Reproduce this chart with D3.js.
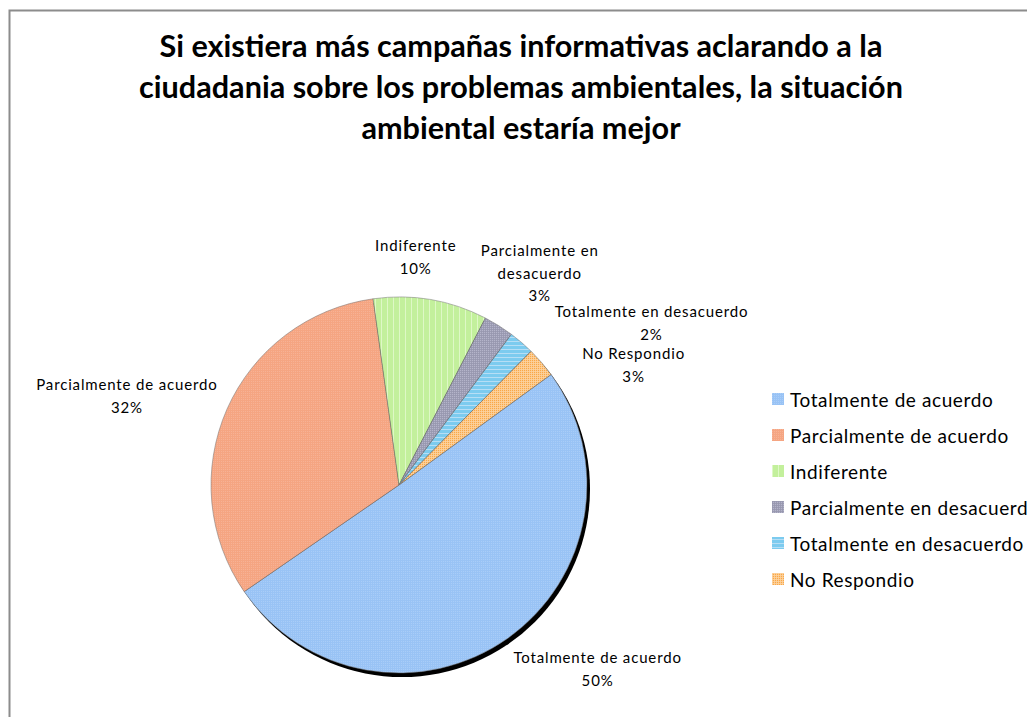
<!DOCTYPE html>
<html>
<head>
<meta charset="utf-8">
<script src="https://cdn.jsdelivr.net/npm/d3@7"></script>
<style>
  html, body { margin: 0; padding: 0; background: #fff; }
  svg { display: block; }
</style>
</head>
<body>
<div id="chart"></div>
<script>
// data
const categories = [
  'Totalmente de acuerdo',
  'Parcialmente de acuerdo',
  'Indiferente',
  'Parcialmente en desacuerdo',
  'Totalmente en desacuerdo',
  'No Respondio'
]
const values = [50.4, 32.4, 9.8, 2.6, 2.2, 2.6]
const labelLines = [
  ['Totalmente de acuerdo'],
  ['Parcialmente de acuerdo'],
  ['Indiferente'],
  ['Parcialmente en', 'desacuerdo'],
  ['Totalmente en desacuerdo'],
  ['No Respondio']
]
const titleLines = [
  'Si existiera más campañas informativas aclarando a la',
  'ciudadania sobre los problemas ambientales, la situación',
  'ambiental estaría mejor'
]

const WIDTH = 1027
const HEIGHT = 717
const CX = 399
const CY = 485
const RADIUS = 188
const START_DEG = 54

// base colours + pattern overlay colours per slice
const baseColors = ['#99c3f5', '#f5a582', '#c3f09c', '#b4b4ca', '#7ccbef', '#f9a848']
const patternColors = ['#a9cdf8', '#f7b295', '#def8c6', '#9696ae', '#b6def5', '#fcd3a2']
const patternKinds = ['dots', 'dots', 'vstripes', 'grid', 'hstripes', 'grid']

// Excel placed the data labels by hand, offsets from the rim point at mid angle
const labelNudge = [
  [90, 30], [-100, -14], [-15, -43], [41, -53], [130, -20], [92, 2]
]

const svg = d3.select('#chart').append('svg')
  .attr('width', WIDTH)
  .attr('height', HEIGHT)

const defs = svg.append('defs')
patternKinds.forEach((kind, i) => {
  const size = kind === 'vstripes' ? 6 : kind === 'hstripes' ? 4 : 2
  const p = defs.append('pattern')
    .attr('id', 'pat' + i)
    .attr('patternUnits', 'userSpaceOnUse')
    .attr('width', size)
    .attr('height', size)
  p.append('rect').attr('width', size).attr('height', size).attr('fill', baseColors[i])
  if (kind === 'dots') {
    p.append('rect').attr('width', 1).attr('height', 1).attr('fill', patternColors[i])
  } else if (kind === 'vstripes') {
    p.append('rect').attr('width', 1).attr('height', size).attr('fill', patternColors[i])
  } else if (kind === 'hstripes') {
    p.append('rect').attr('width', size).attr('height', 1).attr('fill', patternColors[i])
  } else {
    p.append('rect').attr('width', size).attr('height', 1).attr('fill', patternColors[i]).attr('opacity', 0.8)
    p.append('rect').attr('width', 1).attr('height', size).attr('fill', patternColors[i]).attr('opacity', 0.8)
  }
})

// chart frame
svg.append('rect')
  .attr('x', 9.5)
  .attr('y', 10.5)
  .attr('width', WIDTH + 20)
  .attr('height', HEIGHT + 20)
  .attr('fill', '#fff')
  .attr('stroke', '#8c8c8c')
  .attr('stroke-width', 2)

// title
svg.append('g')
  .selectAll('text')
  .data(titleLines)
  .enter()
  .append('text')
  .attr('x', 521)
  .attr('y', (d, i) => 57 + i * 41)
  .attr('text-anchor', 'middle')
  .attr('font-family', 'Lato, "Open Sans", sans-serif')
  .attr('font-weight', 'bold')
  .attr('font-size', 30.6)
  .attr('fill', '#000')
  .text((d) => d)

const pie = d3.pie()
  .sort(null)
  .value((d) => d)
  .startAngle(START_DEG * Math.PI / 180)
  .endAngle(START_DEG * Math.PI / 180 + 2 * Math.PI)

const arcs = pie(values)
const arc = d3.arc().innerRadius(0).outerRadius(RADIUS)

const pieG = svg.append('g').attr('transform', `translate(${CX},${CY})`)

// shadow
pieG.append('circle')
  .attr('cx', 3)
  .attr('cy', 4)
  .attr('r', RADIUS)
  .attr('fill', '#000')

pieG.selectAll('path.slice')
  .data(arcs)
  .enter()
  .append('path')
  .attr('class', 'slice')
  .attr('d', arc)
  .attr('fill', (d, i) => `url(#pat${i})`)
  .attr('stroke', '#707070')
  .attr('stroke-width', 0.5)

// data labels
const labelFont = 'Lato, "Open Sans", sans-serif'
const labelG = svg.append('g')
arcs.forEach((a, i) => {
  const mid = (a.startAngle + a.endAngle) / 2
  const x = CX + RADIUS * Math.sin(mid) + labelNudge[i][0]
  const y = CY - RADIUS * Math.cos(mid) + labelNudge[i][1]
  const lines = labelLines[i].concat([Math.round(values[i]) + '%'])
  const lh = 22.5
  const t = labelG.append('text')
    .attr('text-anchor', 'middle')
    .attr('font-family', labelFont)
    .attr('font-size', 15)
    .attr('letter-spacing', 0.85)
    .attr('fill', '#000')
  lines.forEach((ln, j) => {
    t.append('tspan')
      .attr('x', x)
      .attr('y', y + (j - (lines.length - 1) / 2) * lh)
      .attr('dominant-baseline', 'central')
      .text(ln)
  })
})

// legend
const legend = svg.append('g')
  .selectAll('g')
  .data(categories)
  .enter()
  .append('g')
  .attr('transform', (d, i) => `translate(772,${399 + i * 36})`)

legend.append('rect')
  .attr('x', 0)
  .attr('y', -6)
  .attr('width', 12)
  .attr('height', 12)
  .attr('fill', (d, i) => `url(#pat${i})`)

legend.append('text')
  .attr('x', 18)
  .attr('y', 0)
  .attr('dominant-baseline', 'central')
  .attr('font-family', labelFont)
  .attr('font-size', 19)
  .attr('letter-spacing', 0.6)
  .attr('fill', '#000')
  .text((d) => d)
</script>
</body>
</html>
